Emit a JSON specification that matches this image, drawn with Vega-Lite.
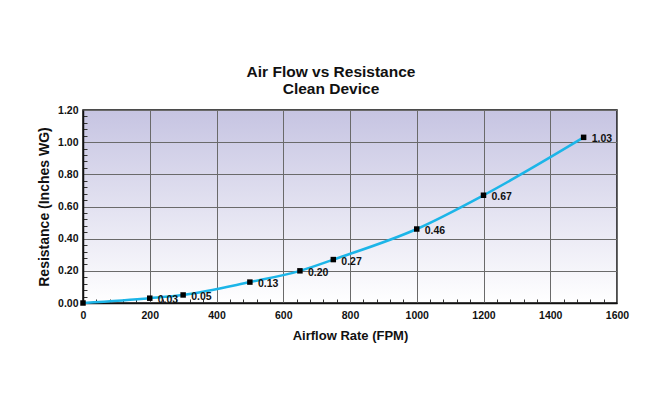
{
  "$schema": "https://vega.github.io/schema/vega-lite/v6.json",
  "width": 534,
  "height": 193,
  "autosize": {"type": "none"},
  "padding": {"left": 83, "top": 110, "right": 28, "bottom": 107},
  "background": "white",
  "title": {
    "text": ["Air Flow vs Resistance", "Clean Device"],
    "fontSize": 15.5,
    "font": "Liberation Sans",
    "fontWeight": "bold",
    "color": "#111111",
    "lineHeight": 17,
    "offset": 8,
    "dx": -19,
    "anchor": "middle"
  },
  "config": {
    "font": "Liberation Sans",
    "view": {
      "stroke": "#111111",
      "strokeWidth": 1.5,
      "fill": {
        "gradient": "linear",
        "x1": 0, "y1": 0, "x2": 0, "y2": 1,
        "stops": [
          {"offset": 0, "color": "#C6C4E2"},
          {"offset": 1, "color": "#FFFFFF"}
        ]
      }
    }
  },
  "data": {
    "values": [
      {"airflow": 0, "resistance": 0.00},
      {"airflow": 200, "resistance": 0.03},
      {"airflow": 300, "resistance": 0.05},
      {"airflow": 500, "resistance": 0.13},
      {"airflow": 650, "resistance": 0.20},
      {"airflow": 750, "resistance": 0.27},
      {"airflow": 1000, "resistance": 0.46},
      {"airflow": 1200, "resistance": 0.67},
      {"airflow": 1500, "resistance": 1.03}
    ]
  },
  "encoding": {
    "x": {
      "field": "airflow",
      "type": "quantitative",
      "scale": {"domain": [0, 1600], "nice": false, "zero": true},
      "axis": {
        "values": [0,40,80,120,160,200,240,280,320,360,400,440,480,520,560,600,640,680,720,760,800,840,880,920,960,1000,1040,1080,1120,1160,1200,1240,1280,1320,1360,1400,1440,1480,1520,1560,1600],
        "labelExpr": "datum.value % 200 === 0 ? datum.label : ''",
        "format": "d",
        "grid": true,
        "gridColor": "#6A6A6A",
        "gridWidth": 1,
        "gridOpacity": {"condition": {"test": "datum.value % 200 === 0", "value": 1}, "value": 0},
        "tickSize": {"condition": {"test": "datum.value % 200 === 0", "value": 0}, "value": -4},
        "tickColor": "#333333",
        "domainColor": "#111111",
        "domainWidth": 1.5,
        "labelFontSize": 10.5,
        "labelFontWeight": "bold",
        "labelColor": "#111111",
        "labelPadding": 7,
        "labelFlush": false,
        "labelOverlap": false,
        "title": "Airflow Rate (FPM)",
        "titleFontSize": 13,
        "titleFontWeight": "bold",
        "titleColor": "#111111",
        "titlePadding": 9
      }
    },
    "y": {
      "field": "resistance",
      "type": "quantitative",
      "scale": {"domain": [0, 1.2], "nice": false},
      "axis": {
        "values": [0,0.04,0.08,0.12,0.16,0.2,0.24,0.28,0.32,0.36,0.4,0.44,0.48,0.52,0.56,0.6,0.64,0.68,0.72,0.76,0.8,0.84,0.88,0.92,0.96,1,1.04,1.08,1.12,1.16,1.2],
        "labelExpr": "abs(datum.value*5 - round(datum.value*5)) < 0.001 ? datum.label : ''",
        "format": ".2f",
        "grid": true,
        "gridColor": "#6A6A6A",
        "gridWidth": 1,
        "gridOpacity": {"condition": {"test": "abs(datum.value*5 - round(datum.value*5)) < 0.001", "value": 1}, "value": 0},
        "tickSize": {"condition": {"test": "abs(datum.value*5 - round(datum.value*5)) < 0.001", "value": 0}, "value": -4},
        "tickColor": "#333333",
        "domainColor": "#111111",
        "domainWidth": 1.5,
        "labelFontSize": 10.5,
        "labelFontWeight": "bold",
        "labelColor": "#111111",
        "labelPadding": 5,
        "labelOverlap": false,
        "title": "Resistance (Inches WG)",
        "titleFontSize": 14,
        "titleFontWeight": "bold",
        "titleColor": "#111111",
        "titlePadding": 6
      }
    }
  },
  "layer": [
    {
      "mark": {"type": "line", "interpolate": "monotone", "color": "#1CB5E8", "strokeWidth": 2.5}
    },
    {
      "mark": {"type": "point", "shape": "square", "filled": true, "color": "#000000", "size": 30, "opacity": 1}
    },
    {
      "transform": [{"filter": "datum.airflow > 0"}],
      "mark": {"type": "text", "align": "left", "baseline": "middle", "dx": 8, "dy": 2, "fontSize": 10.5, "fontWeight": "bold", "color": "#111111"},
      "encoding": {
        "text": {"field": "resistance", "type": "quantitative", "format": ".2f"}
      }
    }
  ]
}
